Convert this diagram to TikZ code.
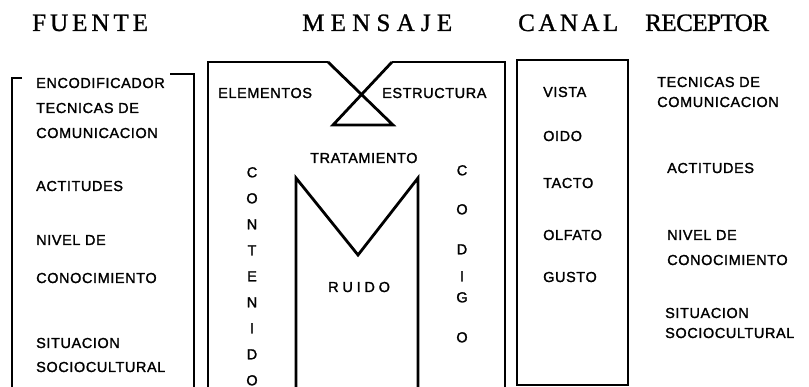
\documentclass[tikz,border=0pt]{standalone}
\usepackage{fontspec}
\setmainfont{Liberation Serif}
\setsansfont{Liberation Sans}
\newfontfamily\lblfont[LetterSpace=4,FakeBold=1.5]{Liberation Sans}
\newfontfamily\vertfont[FakeBold=1.5]{Liberation Sans}
\newfontfamily\wideLbl[LetterSpace=26,FakeBold=1.5]{Liberation Sans}
\newfontfamily\ttlA[LetterSpace=16,FakeBold=1]{Liberation Serif}
\newfontfamily\ttlB[LetterSpace=25,FakeBold=1]{Liberation Serif}
\newfontfamily\ttlC[LetterSpace=14,FakeBold=1]{Liberation Serif}
\newfontfamily\ttlD[LetterSpace=-2,FakeBold=1]{Liberation Serif}
\begin{document}
\begin{tikzpicture}[x=1pt,y=-1pt,
  lbl/.style={font=\lblfont\fontsize{14.5}{16}\selectfont, inner sep=0pt, anchor=base west},
  ttl/.style={inner sep=0pt, anchor=base west},
  vert/.style={inner sep=0pt, anchor=north, align=center},
  boxline/.style={line width=2pt},
  figline/.style={line width=2.8pt, line join=miter, miter limit=20}]
\useasboundingbox (0,0) rectangle (809,387);
\fill[white] (0,0) rectangle (809,387);

% titles
\node[ttl, font=\ttlA\fontsize{25}{28}\selectfont] (tfuente) at (32,31) {FUENTE};
\node[ttl, font=\ttlB\fontsize{25}{28}\selectfont] (tmensaje) at (302,31) {MENSAJE};
\node[ttl, font=\ttlC\fontsize{25}{28}\selectfont] (tcanal) at (518,31) {CANAL};
\node[ttl, font=\ttlD\fontsize{25}{28}\selectfont] (treceptor) at (645,31) {RECEPTOR};

% FUENTE box
\draw[boxline] (22,78) -- (12,78) -- (12,392);
\draw[boxline] (170,74) -- (194,74) -- (194,392);
\node[lbl] (f1) at (36,88) {ENCODIFICADOR};
\node[lbl] (f2) at (36,113) {TECNICAS DE};
\node[lbl] (f3) at (36,138) {COMUNICACION};
\node[lbl] (f4) at (36,191) {ACTITUDES};
\node[lbl] (f5) at (36,245) {NIVEL DE};
\node[lbl] (f6) at (36,283) {CONOCIMIENTO};
\node[lbl] (f7) at (36,348) {SITUACION};
\node[lbl] (f8) at (36,372) {SOCIOCULTURAL};

% MENSAJE box
\draw[boxline] (208,392) -- (208,62) -- (328,62);
\draw[boxline] (392,62) -- (505,62) -- (505,392);
\draw[figline] (328,62) -- (393,125) -- (333,125) -- (392,62);
\draw[figline] (296,392) -- (296,178) -- (358,255) -- (418,178) -- (418,392);
\node[lbl] (m1) at (218,98) {ELEMENTOS};
\node[lbl] (m2) at (382,98) {ESTRUCTURA};
\node[lbl] (m3) at (310,163) {TRATAMIENTO};
\node[lbl, font=\wideLbl\fontsize{14.5}{16}\selectfont] (m4) at (328,292) {RUIDO};
\node[vert, font=\vertfont\fontsize{14.5}{26}\selectfont] (m5) at (252,167) {C\\O\\N\\T\\E\\N\\I\\D\\O};
\node[vert, font=\vertfont\fontsize{14.5}{20}\selectfont] (m6) at (462,165) {C\\[19pt]O\\[20pt]D\\[7pt]I\\[1pt]G\\[20pt]O};

% CANAL box
\draw[boxline] (517,60) rectangle (628,385);
\node[lbl] (c1) at (543,97) {VISTA};
\node[lbl] (c2) at (543,141) {OIDO};
\node[lbl] (c3) at (543,188) {TACTO};
\node[lbl] (c4) at (543,240) {OLFATO};
\node[lbl] (c5) at (543,282) {GUSTO};

% RECEPTOR
\node[lbl] (r1) at (657,87) {TECNICAS DE};
\node[lbl] (r2) at (657,107) {COMUNICACION};
\node[lbl] (r3) at (667,173) {ACTITUDES};
\node[lbl] (r4) at (667,240) {NIVEL DE};
\node[lbl] (r5) at (667,265) {CONOCIMIENTO};
\node[lbl] (r6) at (665,318) {SITUACION};
\node[lbl] (r7) at (665,338) {SOCIOCULTURAL};
\end{tikzpicture}
\end{document}
